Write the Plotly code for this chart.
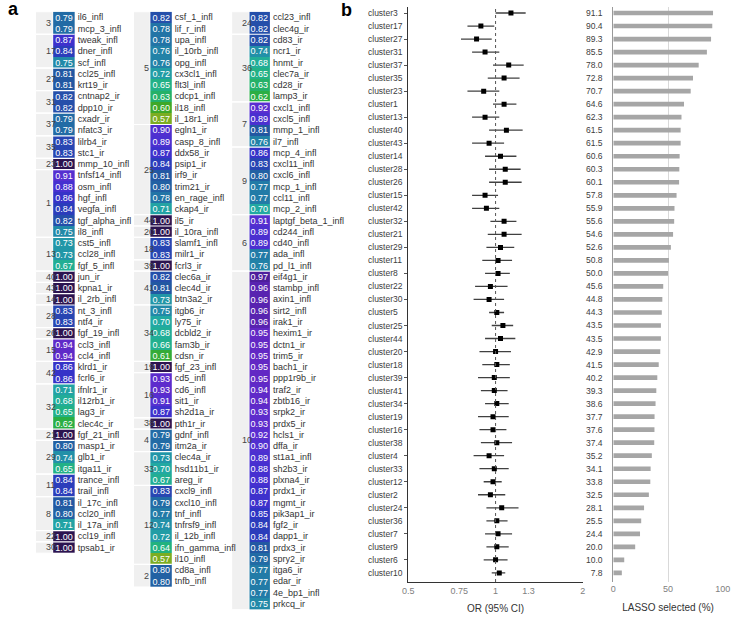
import plotly.graph_objects as go

# ---- panel a: clusters of proteins (three table columns) ----
col1_clusters = [3, 17, 27, 31, 37, 35, 23, 1, 13, 40, 43, 14, 28, 26, 15, 42, 32, 21, 29, 11, 8, 22, 30]
col1_genes = [
    ["il6_infl", "mcp_3_infl"],
    ["tweak_infl", "dner_infl", "scf_infl"],
    ["ccl25_infl", "krt19_ir"],
    ["cntnap2_ir", "dpp10_ir"],
    ["cxadr_ir", "nfatc3_ir"],
    ["lilrb4_ir", "stc1_ir"],
    ["mmp_10_infl"],
    ["tnfsf14_infl", "osm_infl", "hgf_infl", "vegfa_infl", "tgf_alpha_infl", "il8_infl"],
    ["cst5_infl", "ccl28_infl", "fgf_5_infl"],
    ["jun_ir"],
    ["kpna1_ir"],
    ["il_2rb_infl"],
    ["nt_3_infl", "ntf4_ir"],
    ["fgf_19_infl"],
    ["ccl3_infl", "ccl4_infl"],
    ["klrd1_ir", "fcrl6_ir"],
    ["ifnlr1_ir", "il12rb1_ir", "lag3_ir", "clec4c_ir"],
    ["fgf_21_infl"],
    ["masp1_ir", "glb1_ir", "itga11_ir"],
    ["trance_infl", "trail_infl"],
    ["il_17c_infl", "ccl20_infl", "il_17a_infl"],
    ["ccl19_infl"],
    ["tpsab1_ir"],
]
col1_vals = [
    [0.79, 0.79], [0.87, 0.84, 0.75], [0.81, 0.81], [0.82, 0.82], [0.79, 0.79],
    [0.83, 0.83], [1.00], [0.91, 0.88, 0.86, 0.84, 0.82, 0.75], [0.73, 0.73, 0.67],
    [1.00], [1.00], [1.00], [0.83, 0.83], [1.00], [0.94, 0.94], [0.86, 0.86],
    [0.71, 0.68, 0.65, 0.62], [1.00], [0.80, 0.74, 0.65], [0.84, 0.84],
    [0.81, 0.80, 0.71], [1.00], [1.00],
]

col2_clusters = [5, 25, 44, 20, 18, 39, 41, 34, 19, 16, 38, 4, 33, 12, 2]
col2_genes = [
    ["csf_1_infl", "lif_r_infl", "upa_infl", "il_10rb_infl", "opg_infl", "cx3cl1_infl",
     "flt3l_infl", "cdcp1_infl", "il18_infl", "il_18r1_infl"],
    ["egln1_ir", "casp_8_infl", "ddx58_ir", "psip1_ir", "irf9_ir", "trim21_ir",
     "en_rage_infl", "ckap4_ir"],
    ["il5_ir"],
    ["il_10ra_infl"],
    ["slamf1_infl", "milr1_ir"],
    ["fcrl3_ir"],
    ["clec6a_ir", "clec4d_ir", "btn3a2_ir"],
    ["itgb6_ir", "ly75_ir", "dcbld2_ir", "fam3b_ir", "cdsn_ir"],
    ["fgf_23_infl"],
    ["cd5_infl", "cd6_infl", "sit1_ir", "sh2d1a_ir"],
    ["pth1r_ir"],
    ["gdnf_infl", "itm2a_ir"],
    ["clec4a_ir", "hsd11b1_ir", "areg_ir"],
    ["cxcl9_infl", "cxcl10_infl", "tnf_infl", "tnfrsf9_infl", "il_12b_infl",
     "ifn_gamma_infl", "il10_infl"],
    ["cd8a_infl", "tnfb_infl"],
]
col2_vals = [
    [0.82, 0.78, 0.78, 0.76, 0.76, 0.72, 0.65, 0.63, 0.60, 0.57],
    [0.90, 0.89, 0.87, 0.84, 0.81, 0.80, 0.78, 0.71],
    [1.00], [1.00], [0.83, 0.83], [1.00], [0.82, 0.81, 0.73],
    [0.75, 0.70, 0.68, 0.66, 0.61], [1.00], [0.93, 0.93, 0.91, 0.87], [1.00],
    [0.79, 0.79], [0.73, 0.70, 0.67],
    [0.83, 0.79, 0.77, 0.74, 0.72, 0.64, 0.57], [0.80, 0.80],
]

col3_clusters = [24, 36, 7, 9, 6, 10]
col3_genes = [
    ["ccl23_infl", "clec4g_ir"],
    ["cd83_ir", "ncr1_ir", "hnmt_ir", "clec7a_ir", "cd28_ir", "lamp3_ir"],
    ["cxcl1_infl", "cxcl5_infl", "mmp_1_infl", "il7_infl"],
    ["mcp_4_infl", "cxcl11_infl", "cxcl6_infl", "mcp_1_infl", "ccl11_infl", "mcp_2_infl"],
    ["laptgf_beta_1_infl", "cd244_infl", "cd40_infl", "ada_infl", "pd_l1_infl"],
    ["eif4g1_ir", "stambp_infl", "axin1_infl", "sirt2_infl", "irak1_ir", "hexim1_ir",
     "dctn1_ir", "trim5_ir", "bach1_ir", "ppp1r9b_ir", "traf2_ir", "zbtb16_ir",
     "srpk2_ir", "prdx5_ir", "hcls1_ir", "dffa_ir", "st1a1_infl", "sh2b3_ir",
     "plxna4_ir", "prdx1_ir", "mgmt_ir", "pik3ap1_ir", "fgf2_ir", "dapp1_ir",
     "prdx3_ir", "spry2_ir", "itga6_ir", "edar_ir", "4e_bp1_infl", "prkcq_ir"],
]
col3_vals = [
    [0.82, 0.82],
    [0.82, 0.74, 0.68, 0.65, 0.63, 0.62],
    [0.92, 0.89, 0.81, 0.76],
    [0.86, 0.83, 0.80, 0.77, 0.77, 0.70],
    [0.91, 0.89, 0.89, 0.77, 0.76],
    [0.97, 0.96, 0.96, 0.96, 0.96, 0.95, 0.95, 0.95, 0.95, 0.95, 0.94, 0.94, 0.93,
     0.93, 0.92, 0.90, 0.89, 0.88, 0.88, 0.87, 0.87, 0.85, 0.84, 0.84, 0.81, 0.79,
     0.77, 0.77, 0.77, 0.75],
]

# ---- panel b: forest plot + LASSO selection ----
clusters = ["cluster3", "cluster17", "cluster27", "cluster31", "cluster37", "cluster35",
            "cluster23", "cluster1", "cluster13", "cluster40", "cluster43", "cluster14",
            "cluster28", "cluster26", "cluster15", "cluster42", "cluster32", "cluster21",
            "cluster29", "cluster11", "cluster8", "cluster22", "cluster30", "cluster5",
            "cluster25", "cluster44", "cluster20", "cluster18", "cluster39", "cluster41",
            "cluster34", "cluster19", "cluster16", "cluster38", "cluster4", "cluster33",
            "cluster12", "cluster2", "cluster24", "cluster36", "cluster7", "cluster9",
            "cluster6", "cluster10"]
or_est = [1.13, 0.89, 0.86, 0.92, 1.11, 1.07, 0.91, 1.07, 0.92, 1.09, 0.95, 1.04,
          1.08, 1.08, 0.92, 0.93, 1.07, 1.07, 1.04, 1.02, 1.02, 0.96, 0.95, 1.01,
          1.06, 1.04, 1.00, 1.01, 0.99, 0.99, 1.01, 0.98, 0.98, 1.01, 0.95, 0.99,
          0.98, 0.96, 1.05, 1.01, 1.02, 1.01, 1.00, 1.03]
or_lo = [1.00, 0.80, 0.76, 0.83, 0.98, 0.94, 0.80, 0.98, 0.83, 0.95, 0.83, 0.92,
         0.95, 0.95, 0.83, 0.83, 0.96, 0.94, 0.93, 0.90, 0.92, 0.85, 0.84, 0.95,
         0.97, 0.92, 0.88, 0.90, 0.87, 0.89, 0.92, 0.87, 0.88, 0.89, 0.84, 0.88,
         0.91, 0.87, 0.93, 0.93, 0.92, 0.93, 0.91, 0.97]
or_hi = [1.27, 0.99, 0.97, 1.03, 1.25, 1.21, 1.03, 1.18, 1.03, 1.24, 1.07, 1.18,
         1.22, 1.23, 1.02, 1.03, 1.18, 1.23, 1.16, 1.14, 1.12, 1.10, 1.07, 1.07,
         1.15, 1.17, 1.13, 1.12, 1.12, 1.10, 1.11, 1.11, 1.09, 1.14, 1.07, 1.11,
         1.05, 1.08, 1.20, 1.10, 1.14, 1.11, 1.10, 1.08]
lasso_pct = [91.1, 90.4, 89.3, 85.5, 78.0, 72.8, 70.7, 64.6, 62.3, 61.5, 61.5, 60.6,
             60.3, 60.1, 57.8, 55.9, 55.6, 54.6, 52.6, 50.8, 50.0, 45.6, 44.8, 44.3,
             43.5, 43.5, 42.9, 41.5, 40.2, 39.3, 38.6, 37.7, 37.6, 37.4, 35.2, 34.1,
             33.8, 32.5, 28.1, 25.5, 24.4, 20.0, 10.0, 7.8]
or_ticks = [0.5, 0.75, 1, 1.3, 2]

W, H = 740, 618
NARROW = "Liberation Sans Narrow, Arial Narrow, Liberation Sans, sans-serif"
SANS = "Liberation Sans, Arial, sans-serif"

zmin, zmax = 0.57, 1.0
stops = [(0.57, "#7cad22"), (0.60, "#3ea828"), (0.62, "#2aae44"), (0.635, "#22b27a"),
         (0.66, "#22b08e"), (0.70, "#22a9a2"), (0.74, "#2290a8"), (0.78, "#2274a6"),
         (0.81, "#2258a2"), (0.83, "#2846b2"), (0.85, "#2e34c4"), (0.88, "#4630d0"),
         (0.92, "#5a2ed0"), (0.95, "#6228c4"), (0.97, "#4e1e9c"), (1.00, "#2c1450")]
cscale = [[(v - zmin) / (zmax - zmin), c] for v, c in stops]

fig = go.Figure()
shapes = []
annotations = []

row_px = 11.28
top_px = 11.7
# (cluster cell left, value cell left, value cell right) in px
col_pos = [(30, 48, 70), (130, 147, 169), (230, 248, 269)]
tables = [(col1_clusters, col1_genes, col1_vals),
          (col2_clusters, col2_genes, col2_vals),
          (col3_clusters, col3_genes, col3_vals)]

for i, (cl, genes, vals) in enumerate(tables):
    n = i + 1
    xs = "" if n == 1 else str(n)
    flat_g = [g for grp in genes for g in grp]
    flat_v = [v for grp in vals for v in grp]
    nrows = len(flat_g)
    c0, v0, v1 = col_pos[i]
    fig.add_trace(go.Heatmap(
        z=[[v] for v in flat_v], x=[0], y=flat_g,
        colorscale=cscale, zmin=zmin, zmax=zmax, showscale=False,
        texttemplate="%{z:.2f}", textfont=dict(color="white", size=9, family=NARROW),
        hoverinfo="skip", xaxis="x" + xs, yaxis="y" + xs,
    ))
    top = 1 - top_px / H
    fig.update_layout({
        "xaxis" + xs: dict(domain=[v0 / W, v1 / W], range=[-0.5, 0.5], visible=False,
                           anchor="y" + xs),
        "yaxis" + xs: dict(domain=[top - nrows * row_px / H, top], type="category",
                           range=[nrows - 0.5, -0.5], side="right", anchor="x" + xs,
                           showgrid=False, zeroline=False, ticks="", ticklabelstandoff=2,
                           tickfont=dict(size=9, color="#333", family=NARROW)),
    })
    start = 0
    for c, grp in zip(cl, genes):
        k = len(grp)
        shapes.append(dict(type="rect", xref="paper", yref="y" + xs,
                           x0=c0 / W, x1=v0 / W, y0=start - 0.5, y1=start + k - 0.5,
                           fillcolor="#f0f0f0", line=dict(color="white", width=1),
                           layer="below"))
        if start > 0:
            shapes.append(dict(type="line", xref="paper", yref="y" + xs,
                               x0=c0 / W, x1=v1 / W, y0=start - 0.5, y1=start - 0.5,
                               line=dict(color="white", width=1.2)))
        annotations.append(dict(text=str(c), xref="paper", yref="y" + xs,
                                x=(c0 + v0) / 2 / W, y=start + (k - 1) / 2,
                                showarrow=False, font=dict(size=9, color="#444", family=NARROW)))
        start += k

# forest plot
ndom = [1 - 582 / H, 1 - 6.5 / H]
yrng = [len(clusters) - 1 + 0.7, -0.5]
est_plus = [h - e for h, e in zip(or_hi, or_est)]
est_minus = [e - l for e, l in zip(or_est, or_lo)]
fig.add_trace(go.Scatter(
    x=or_est, y=clusters, mode="markers",
    marker=dict(symbol="square", size=5, color="black"),
    error_x=dict(type="data", symmetric=False, array=est_plus, arrayminus=est_minus,
                 width=0, thickness=1.3, color="#404040"),
    xaxis="x4", yaxis="y4", hoverinfo="skip",
))
shapes.append(dict(type="line", xref="x4", yref="y4 domain", x0=1, x1=1, y0=0, y1=1,
                   line=dict(color="#555", width=1, dash="dot")))
for c in clusters:
    annotations.append(dict(text=c, xref="paper", yref="y4", x=367 / W, y=c,
                            xanchor="left", showarrow=False,
                            font=dict(size=8.5, color="#404040", family=SANS)))

# LASSO bars
fig.add_trace(go.Bar(
    x=lasso_pct, y=clusters, orientation="h", marker=dict(color="#a6a6a6", line_width=0),
    width=0.36, xaxis="x5", yaxis="y5", hoverinfo="skip",
))

annotations.append(dict(text="<b>a</b>", xref="paper", yref="paper", x=0, y=1 - 9 / H,
                        xanchor="left", yanchor="middle", showarrow=False,
                        font=dict(size=18, color="black", family=SANS)))
annotations.append(dict(text="<b>b</b>", xref="paper", yref="paper", x=347 / W, y=1 - 10 / H,
                        xanchor="center", yanchor="middle", showarrow=False,
                        font=dict(size=18, color="black", family=SANS)))

fig.update_layout(
    width=W, height=H, margin=dict(l=0, r=0, t=0, b=0),
    paper_bgcolor="white", plot_bgcolor="white", showlegend=False,
    xaxis4=dict(domain=[410 / W, 588 / W], type="log", anchor="y4",
                range=[-0.30103, 0.30103], tickvals=or_ticks,
                ticktext=[str(t) for t in or_ticks],
                tickfont=dict(size=9, color="#808080", family=SANS),
                showline=True, linecolor="#333", linewidth=1, showgrid=False, zeroline=False,
                title=dict(text="OR (95% CI)", font=dict(size=10, color="#333", family=SANS),
                           standoff=10)),
    yaxis4=dict(domain=ndom, type="category", categoryarray=clusters, range=yrng,
                anchor="x4", showticklabels=False, ticks="outside", ticklen=3,
                tickcolor="#555", showline=True, linecolor="#333", linewidth=1,
                showgrid=False, zeroline=False),
    xaxis5=dict(domain=[619 / W, 730.6 / W], range=[0, 100], anchor="y5",
                tickvals=[0, 50, 100], tickfont=dict(size=9, color="#808080", family=SANS),
                showgrid=True, gridcolor="#d9d9d9", gridwidth=1, zeroline=False,
                showline=False, ticks="",
                title=dict(text="LASSO selected (%)",
                           font=dict(size=10, color="#333", family=SANS), standoff=10)),
    yaxis5=dict(domain=ndom, type="category", categoryarray=clusters, range=yrng,
                anchor="x5", tickvals=clusters, ticktext=[f"{v:.1f}" for v in lasso_pct],
                tickfont=dict(size=8.5, color="#404040", family=SANS), ticks="",
                ticklabelstandoff=8, showline=True, linecolor="#999", linewidth=1,
                showgrid=False, zeroline=False),
    shapes=shapes, annotations=annotations,
)

fig.write_html("out.html", config={"displayModeBar": False},
               post_script="document.body.style.margin = '0px';")
